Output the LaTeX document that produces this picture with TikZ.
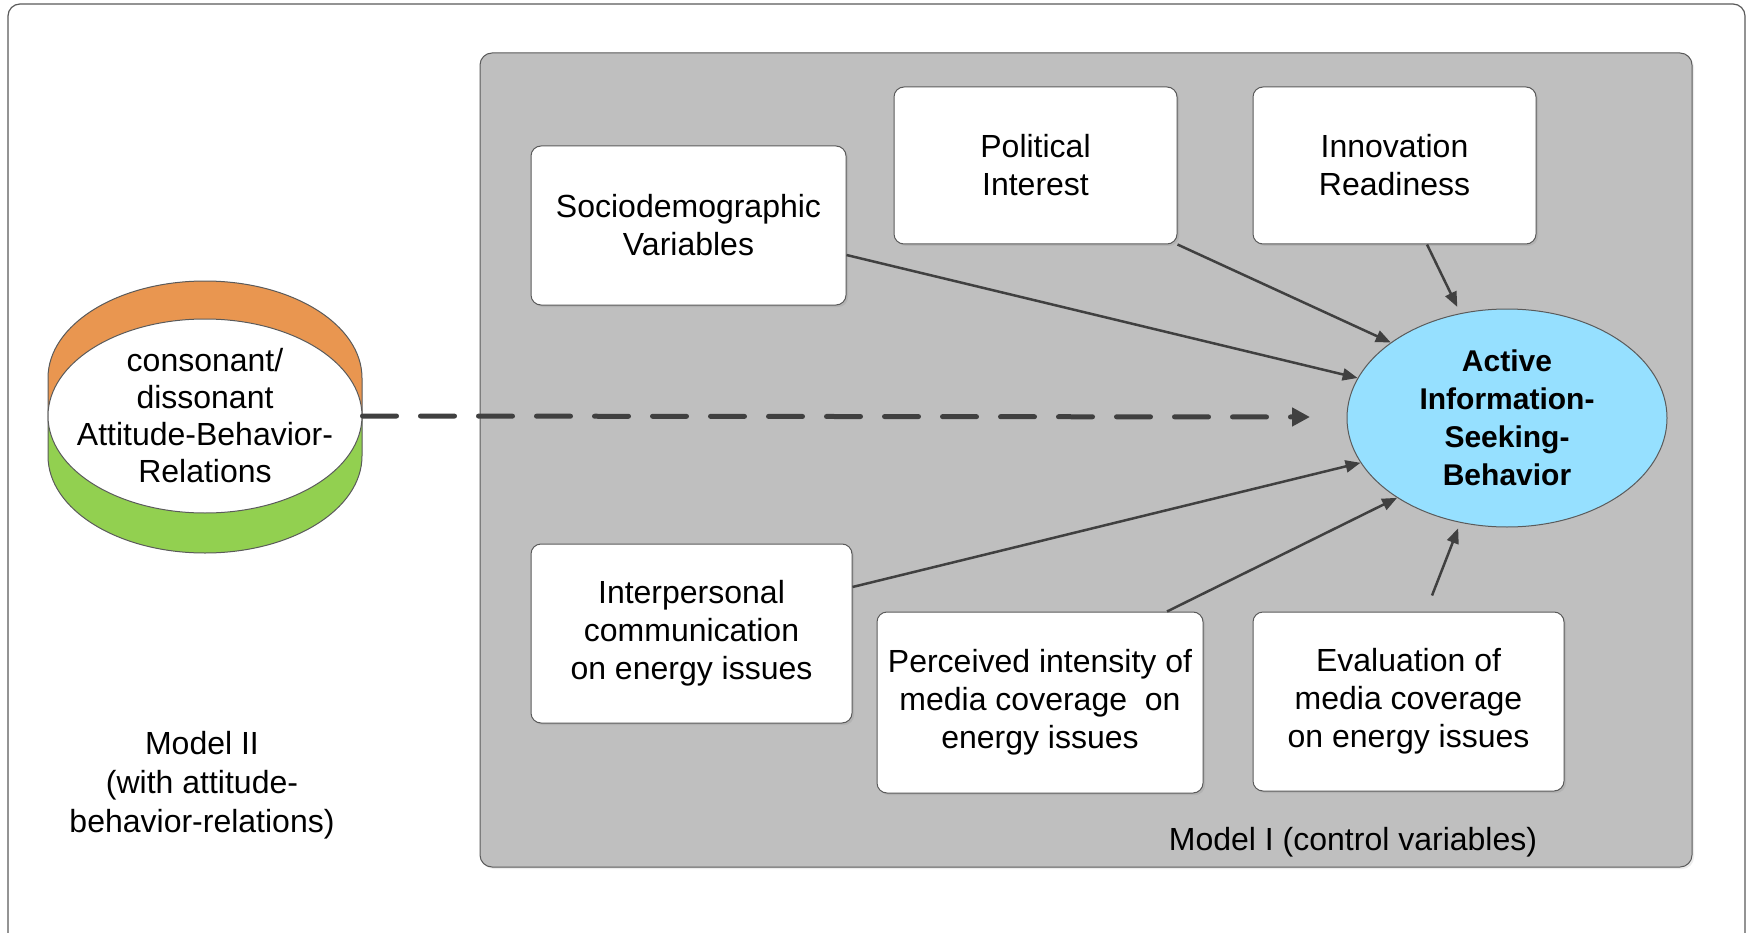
\documentclass[tikz,border=0pt]{standalone}
\usepackage{fontspec}
\setmainfont{Liberation Sans}
\usetikzlibrary{arrows.meta,shapes.geometric,shadows}
\definecolor{panelgray}{RGB}{191,191,191}
\definecolor{edgegray}{RGB}{90,90,90}
\definecolor{arrgray}{RGB}{64,64,64}
\definecolor{orng}{RGB}{233,150,80}
\definecolor{grn}{RGB}{146,208,80}
\definecolor{sky}{RGB}{150,224,255}
\begin{document}
\begin{tikzpicture}[x=1pt,y=-1pt,
  txt/.style={align=center, inner sep=0pt, font=\fontsize{32}{38}\selectfont},
  box/.style={txt, draw=edgegray, line width=1pt, fill=white, rounded corners=10pt,
    drop shadow={shadow xshift=2pt, shadow yshift=-2pt, opacity=0.2}},
  arrow/.style={draw=arrgray, line width=2.5pt, -{Triangle[length=15pt,width=12pt]}},
  dasharrow/.style={draw=arrgray, line width=5pt, line cap=round, dash pattern=on 34pt off 24pt,
    -{Triangle[length=18pt,width=18pt]}}]
\useasboundingbox (0,0) rectangle (1747,933);
\clip (0,0) rectangle (1747,933);
% outer frame
\draw[edgegray, line width=1.2pt, rounded corners=12pt, fill=white] (8,4) rectangle (1745,980);
% panel
\draw[draw=edgegray, line width=1pt, fill=panelgray, rounded corners=12pt,
  drop shadow={shadow xshift=2pt, shadow yshift=-2pt, opacity=0.15}] (480,53) rectangle (1692,867);

% boxes
\node[box, minimum width=315pt, minimum height=159pt] (socio) at (688.5,225.5) {Sociodemographic\\Variables};
\node[box, minimum width=283pt, minimum height=157pt] (pol) at (1035.5,165.5) {Political\\Interest};
\node[box, minimum width=283pt, minimum height=157pt] (innov) at (1394.5,165.5) {Innovation\\Readiness};
\node[box, minimum width=321pt, minimum height=179pt] (inter) at (691.5,633.5) {Interpersonal\\communication\\on energy issues};
\node[box, minimum width=326pt, minimum height=181pt] (perc) at (1040,702.5) {Perceived intensity of\\media coverage\ \ on\\energy issues};
\node[box, minimum width=311pt, minimum height=179pt] (eval) at (1408.5,701.5) {Evaluation of\\media coverage\\on energy issues};

% target ellipse
\node[ellipse, draw=edgegray, line width=1pt, fill=sky, minimum width=320pt, minimum height=218pt, inner sep=0pt] (active) at (1507,418) {};
\node[txt, font=\fontsize{30}{38}\selectfont\bfseries] (activetext) at (active.center)
  {Active\\Information-\\Seeking-\\Behavior};

% left ring (orange top, green bottom)
\fill[orng] (48,416) -- (48,378) arc[start angle=180, end angle=0, x radius=157pt, y radius=97pt] -- (362,416) -- cycle;
\fill[grn] (48,416) -- (48,456) arc[start angle=180, end angle=360, x radius=157pt, y radius=97pt] -- (362,416) -- cycle;
\draw[edgegray, line width=1pt] (48,416) -- (48,378) arc[start angle=180, end angle=0, x radius=157pt, y radius=97pt] -- (362,416);
\draw[edgegray, line width=1pt] (48,416) -- (48,456) arc[start angle=180, end angle=360, x radius=157pt, y radius=97pt] -- (362,416);
\node[ellipse, draw=edgegray, line width=1pt, fill=white, minimum width=314pt, minimum height=194pt, inner sep=0pt] (abr) at (205,416) {};
\node[txt, font=\fontsize{32}{37}\selectfont] (abrtext) at (abr.center)
  {consonant/\\dissonant\\Attitude-Behavior-\\Relations};

% labels
\node[txt, font=\fontsize{32}{39}\selectfont] (m2) at (202,785) {Model II\\(with attitude-\\behavior-relations)};
\node[txt] (m1) at (1353,842) {Model I (control variables)};

% connectors
\coordinate (dashend) at (1310,417);
\draw[dasharrow] (abr.east) -- (dashend);
\draw[arrow] ([yshift=-29.5pt]socio.east) -- (active.165.7);
\draw[arrow] (pol.south east) -- (active.147.8);
\draw[arrow, shorten >=7pt] ([xshift=32.5pt]innov.south) -- (active.114.2);
\draw[arrow] ([yshift=46.5pt]inter.east) -- (active.197);
\draw[arrow] ([xshift=127pt]perc.north) -- (active.216);
\draw[arrow, shorten >=6pt] ([xshift=23.5pt,yshift=16pt]eval.north) -- (active.246.4);
\end{tikzpicture}
\end{document}
